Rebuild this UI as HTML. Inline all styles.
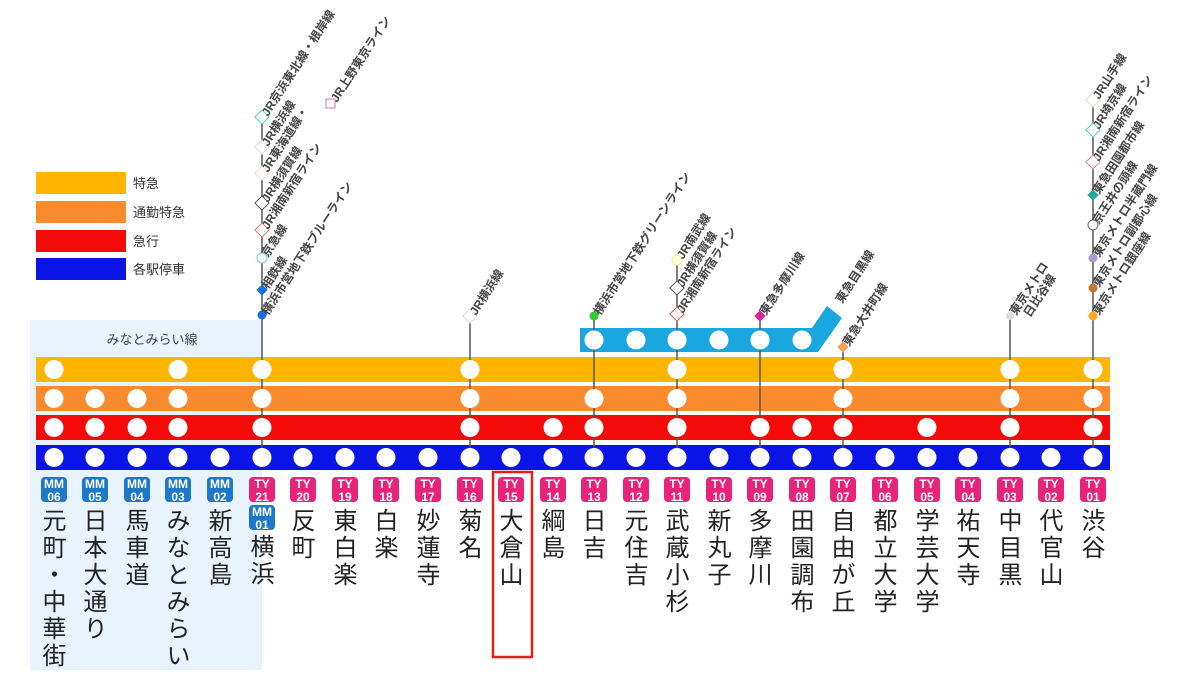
<!DOCTYPE html>
<html><head><meta charset="utf-8"><style>
body{margin:0;background:#fff;width:1200px;height:686px;overflow:hidden;position:relative;font-family:"Liberation Sans","Noto Sans CJK JP",sans-serif}
svg{position:absolute;left:0;top:0}
.n{position:absolute;top:508px;width:30px;writing-mode:vertical-rl;text-orientation:upright;font-size:24px;line-height:30px;letter-spacing:3px;color:#222;font-family:"Noto Sans CJK JP",sans-serif}
</style></head><body>
<svg width="1200" height="686" viewBox="0 0 1200 686" font-family="Liberation Sans, Noto Sans CJK JP, sans-serif">
<rect x="30" y="320" width="232" height="350" fill="#e8f3fd"/>
<text x="152" y="344" font-size="13" fill="#444" text-anchor="middle">みなとみらい線</text>
<rect x="36" y="172" width="90" height="22" fill="#ffb400"/><text x="133" y="188" font-size="13" fill="#333">特急</text>
<rect x="36" y="201" width="90" height="22" fill="#fa8a2e"/><text x="133" y="217" font-size="13" fill="#333">通勤特急</text>
<rect x="36" y="230" width="90" height="22" fill="#f50a0a"/><text x="133" y="246" font-size="13" fill="#333">急行</text>
<rect x="36" y="258" width="90" height="22" fill="#0a14e6"/><text x="133" y="274" font-size="13" fill="#333">各駅停車</text>
<path d="M580 328 L812 328 L827 306 L842 318 L818 352 L580 352 Z" fill="#1aa6de"/>
<rect x="36" y="357" width="1074" height="25" fill="#ffb400"/>
<rect x="36" y="386" width="1074" height="25" fill="#fa8a2e"/>
<rect x="36" y="415" width="1074" height="25" fill="#f50a0a"/>
<rect x="36" y="445" width="1074" height="25" fill="#0a14e6"/>
<g stroke="#555" stroke-width="1.5">
<line x1="262" y1="117" x2="262" y2="457"/><line x1="470" y1="316" x2="470" y2="457"/>
<line x1="594" y1="316" x2="594" y2="457"/><line x1="677" y1="260" x2="677" y2="457"/>
<line x1="760" y1="316" x2="760" y2="457"/><line x1="843" y1="347" x2="843" y2="457"/>
<line x1="1010" y1="316" x2="1010" y2="457"/><line x1="1093" y1="100" x2="1093" y2="457"/>
</g>
<g stroke-width="1">
<rect x="257" y="112" width="10" height="10" transform="rotate(45 262 117)" fill="#fff" stroke="#5cc"/>
<rect x="257" y="142" width="10" height="10" transform="rotate(45 262 147)" fill="#fff" stroke="#ddc"/>
<rect x="257" y="168" width="10" height="10" transform="rotate(45 262 173)" fill="#fff" stroke="#edc"/>
<rect x="257" y="198" width="10" height="10" transform="rotate(45 262 203)" fill="#fff" stroke="#555"/>
<rect x="257" y="225" width="10" height="10" transform="rotate(45 262 230)" fill="#fff" stroke="#d77"/>
<circle cx="262" cy="258" r="5" fill="#fff" stroke="#6cd"/>
<rect x="258" y="286" width="8" height="8" transform="rotate(45 262 290)" fill="#1a6fe0"/>
<circle cx="262" cy="315" r="4.5" fill="#1a6fe0"/>
<rect x="326" y="99" width="9" height="9" fill="#fff" stroke="#c7a"/>
<rect x="465" y="311" width="10" height="10" transform="rotate(45 470 316)" fill="#fff" stroke="#ddc"/>
<circle cx="594" cy="316" r="4.5" fill="#3c3"/>
<circle cx="677" cy="260" r="5" fill="#ffd" stroke="#ee9"/>
<rect x="672" y="283" width="10" height="10" transform="rotate(45 677 288)" fill="#fff" stroke="#555"/>
<rect x="672" y="309" width="10" height="10" transform="rotate(45 677 314)" fill="#fff" stroke="#d55"/>
<rect x="756" y="312" width="8" height="8" transform="rotate(45 760 316)" fill="#e0209a"/>
<rect x="839" y="343" width="8" height="8" transform="rotate(45 843 347)" fill="#f5a050"/>
<circle cx="1010" cy="316" r="4" fill="#ddd"/>
<rect x="1088" y="95" width="10" height="10" transform="rotate(45 1093 100)" fill="#fff" stroke="#ddc"/>
<rect x="1088" y="125" width="10" height="10" transform="rotate(45 1093 130)" fill="#fff" stroke="#5cb"/>
<rect x="1088" y="157" width="10" height="10" transform="rotate(45 1093 162)" fill="#fff" stroke="#d88"/>
<rect x="1089" y="191" width="8" height="8" transform="rotate(45 1093 195)" fill="#2a9"/>
<circle cx="1093" cy="225" r="5" fill="#fff" stroke="#668"/>
<circle cx="1093" cy="258" r="4.5" fill="#a9c"/>
<circle cx="1093" cy="288" r="4.5" fill="#b73"/>
<circle cx="1093" cy="316" r="4.5" fill="#fa2"/>
</g>
<g font-size="12" font-weight="bold" fill="#444">
<text transform="translate(268 117) rotate(-57)">JR京浜東北線・根岸線</text>
<text transform="translate(268 147) rotate(-57)">JR横浜線</text>
<text transform="translate(268 173) rotate(-57)">JR東海道線・</text>
<text transform="translate(337 103) rotate(-57)">JR上野東京ライン</text>
<text transform="translate(268 203) rotate(-57)">JR横須賀線</text>
<text transform="translate(268 230) rotate(-57)">JR湘南新宿ライン</text>
<text transform="translate(268 258) rotate(-57)">京急線</text>
<text transform="translate(268 290) rotate(-57)">相鉄線</text>
<text transform="translate(268 316) rotate(-57)">横浜市営地下鉄ブルーライン</text>
<text transform="translate(476 316) rotate(-57)">JR横浜線</text>
<text transform="translate(600 316) rotate(-57)">横浜市営地下鉄グリーンライン</text>
<text transform="translate(683 260) rotate(-57)">JR南武線</text>
<text transform="translate(683 288) rotate(-57)">JR横須賀線</text>
<text transform="translate(683 314) rotate(-57)">JR湘南新宿ライン</text>
<text transform="translate(766 316) rotate(-57)">東急多摩川線</text>
<text transform="translate(842 304) rotate(-57)">東急目黒線</text>
<text transform="translate(849 347) rotate(-57)">東急大井町線</text>
<text transform="translate(1016 316) rotate(-57)">東京メトロ</text>
<text transform="translate(1030 318) rotate(-57)">日比谷線</text>
<text transform="translate(1099 100) rotate(-57)">JR山手線</text>
<text transform="translate(1099 130) rotate(-57)">JR埼京線</text>
<text transform="translate(1099 162) rotate(-57)">JR湘南新宿ライン</text>
<text transform="translate(1099 195) rotate(-57)">東急田園都市線</text>
<text transform="translate(1099 225) rotate(-57)">京王井の頭線</text>
<text transform="translate(1099 258) rotate(-57)">東京メトロ半蔵門線</text>
<text transform="translate(1099 288) rotate(-57)">東京メトロ副都心線</text>
<text transform="translate(1099 316) rotate(-57)">東京メトロ銀座線</text>
</g>
<g fill="#fff">
<circle cx="594" cy="340" r="9.5"/><circle cx="636" cy="340" r="9.5"/><circle cx="677" cy="340" r="9.5"/><circle cx="719" cy="340" r="9.5"/><circle cx="760" cy="340" r="9.5"/><circle cx="802" cy="340" r="9.5"/>
<circle cx="54" cy="369.5" r="9.5"/><circle cx="178" cy="369.5" r="9.5"/><circle cx="262" cy="369.5" r="9.5"/><circle cx="470" cy="369.5" r="9.5"/><circle cx="677" cy="369.5" r="9.5"/><circle cx="843" cy="369.5" r="9.5"/><circle cx="1010" cy="369.5" r="9.5"/><circle cx="1093" cy="369.5" r="9.5"/>
<circle cx="54" cy="398.5" r="9.5"/><circle cx="95" cy="398.5" r="9.5"/><circle cx="137" cy="398.5" r="9.5"/><circle cx="178" cy="398.5" r="9.5"/><circle cx="262" cy="398.5" r="9.5"/><circle cx="470" cy="398.5" r="9.5"/><circle cx="594" cy="398.5" r="9.5"/><circle cx="677" cy="398.5" r="9.5"/><circle cx="843" cy="398.5" r="9.5"/><circle cx="1010" cy="398.5" r="9.5"/><circle cx="1093" cy="398.5" r="9.5"/>
<circle cx="54" cy="427.5" r="9.5"/><circle cx="95" cy="427.5" r="9.5"/><circle cx="137" cy="427.5" r="9.5"/><circle cx="178" cy="427.5" r="9.5"/><circle cx="262" cy="427.5" r="9.5"/><circle cx="470" cy="427.5" r="9.5"/><circle cx="553" cy="427.5" r="9.5"/><circle cx="594" cy="427.5" r="9.5"/><circle cx="677" cy="427.5" r="9.5"/><circle cx="760" cy="427.5" r="9.5"/><circle cx="802" cy="427.5" r="9.5"/><circle cx="843" cy="427.5" r="9.5"/><circle cx="927" cy="427.5" r="9.5"/><circle cx="1010" cy="427.5" r="9.5"/><circle cx="1093" cy="427.5" r="9.5"/>
<circle cx="54" cy="457.5" r="9.5"/><circle cx="95" cy="457.5" r="9.5"/><circle cx="137" cy="457.5" r="9.5"/><circle cx="178" cy="457.5" r="9.5"/><circle cx="220" cy="457.5" r="9.5"/><circle cx="262" cy="457.5" r="9.5"/><circle cx="303" cy="457.5" r="9.5"/><circle cx="345" cy="457.5" r="9.5"/><circle cx="386" cy="457.5" r="9.5"/><circle cx="428" cy="457.5" r="9.5"/><circle cx="470" cy="457.5" r="9.5"/><circle cx="511" cy="457.5" r="9.5"/><circle cx="553" cy="457.5" r="9.5"/><circle cx="594" cy="457.5" r="9.5"/><circle cx="636" cy="457.5" r="9.5"/><circle cx="677" cy="457.5" r="9.5"/><circle cx="719" cy="457.5" r="9.5"/><circle cx="760" cy="457.5" r="9.5"/><circle cx="802" cy="457.5" r="9.5"/><circle cx="843" cy="457.5" r="9.5"/><circle cx="885" cy="457.5" r="9.5"/><circle cx="927" cy="457.5" r="9.5"/><circle cx="968" cy="457.5" r="9.5"/><circle cx="1010" cy="457.5" r="9.5"/><circle cx="1051" cy="457.5" r="9.5"/><circle cx="1093" cy="457.5" r="9.5"/>
</g>
<g font-weight="bold" fill="#fff" text-anchor="middle">
<g fill="#1e78c8"><rect x="41" y="477" width="26" height="25" rx="4"/><rect x="82" y="477" width="26" height="25" rx="4"/><rect x="124" y="477" width="26" height="25" rx="4"/><rect x="165" y="477" width="26" height="25" rx="4"/><rect x="207" y="477" width="26" height="25" rx="4"/><rect x="249" y="505" width="26" height="25" rx="4"/></g>
<g fill="#e8237a"><rect x="249" y="477" width="26" height="25" rx="4"/><rect x="290" y="477" width="26" height="25" rx="4"/><rect x="332" y="477" width="26" height="25" rx="4"/><rect x="373" y="477" width="26" height="25" rx="4"/><rect x="415" y="477" width="26" height="25" rx="4"/><rect x="457" y="477" width="26" height="25" rx="4"/><rect x="498" y="477" width="26" height="25" rx="4"/><rect x="540" y="477" width="26" height="25" rx="4"/><rect x="581" y="477" width="26" height="25" rx="4"/><rect x="623" y="477" width="26" height="25" rx="4"/><rect x="664" y="477" width="26" height="25" rx="4"/><rect x="706" y="477" width="26" height="25" rx="4"/><rect x="747" y="477" width="26" height="25" rx="4"/><rect x="789" y="477" width="26" height="25" rx="4"/><rect x="830" y="477" width="26" height="25" rx="4"/><rect x="872" y="477" width="26" height="25" rx="4"/><rect x="914" y="477" width="26" height="25" rx="4"/><rect x="955" y="477" width="26" height="25" rx="4"/><rect x="997" y="477" width="26" height="25" rx="4"/><rect x="1038" y="477" width="26" height="25" rx="4"/><rect x="1080" y="477" width="26" height="25" rx="4"/></g>
<g font-size="12">
<text x="54" y="488">MM</text><text x="54" y="501">06</text>
<text x="95" y="488">MM</text><text x="95" y="501">05</text>
<text x="137" y="488">MM</text><text x="137" y="501">04</text>
<text x="178" y="488">MM</text><text x="178" y="501">03</text>
<text x="220" y="488">MM</text><text x="220" y="501">02</text>
<text x="262" y="516">MM</text><text x="262" y="529">01</text>
<text x="262" y="488">TY</text><text x="262" y="501">21</text>
<text x="303" y="488">TY</text><text x="303" y="501">20</text>
<text x="345" y="488">TY</text><text x="345" y="501">19</text>
<text x="386" y="488">TY</text><text x="386" y="501">18</text>
<text x="428" y="488">TY</text><text x="428" y="501">17</text>
<text x="470" y="488">TY</text><text x="470" y="501">16</text>
<text x="511" y="488">TY</text><text x="511" y="501">15</text>
<text x="553" y="488">TY</text><text x="553" y="501">14</text>
<text x="594" y="488">TY</text><text x="594" y="501">13</text>
<text x="636" y="488">TY</text><text x="636" y="501">12</text>
<text x="677" y="488">TY</text><text x="677" y="501">11</text>
<text x="719" y="488">TY</text><text x="719" y="501">10</text>
<text x="760" y="488">TY</text><text x="760" y="501">09</text>
<text x="802" y="488">TY</text><text x="802" y="501">08</text>
<text x="843" y="488">TY</text><text x="843" y="501">07</text>
<text x="885" y="488">TY</text><text x="885" y="501">06</text>
<text x="927" y="488">TY</text><text x="927" y="501">05</text>
<text x="968" y="488">TY</text><text x="968" y="501">04</text>
<text x="1010" y="488">TY</text><text x="1010" y="501">03</text>
<text x="1051" y="488">TY</text><text x="1051" y="501">02</text>
<text x="1093" y="488">TY</text><text x="1093" y="501">01</text>
</g></g>
<rect x="493" y="472" width="39" height="185" fill="none" stroke="#e02020" stroke-width="2.5"/>
</svg>
<div class="n" style="left:39px">元町・中華街</div>
<div class="n" style="left:80px">日本大通り</div>
<div class="n" style="left:122px">馬車道</div>
<div class="n" style="left:163px">みなとみらい</div>
<div class="n" style="left:205px">新高島</div>
<div class="n" style="left:247px;top:534px">横浜</div>
<div class="n" style="left:288px">反町</div>
<div class="n" style="left:330px">東白楽</div>
<div class="n" style="left:371px">白楽</div>
<div class="n" style="left:413px">妙蓮寺</div>
<div class="n" style="left:455px">菊名</div>
<div class="n" style="left:496px">大倉山</div>
<div class="n" style="left:538px">綱島</div>
<div class="n" style="left:579px">日吉</div>
<div class="n" style="left:621px">元住吉</div>
<div class="n" style="left:662px">武蔵小杉</div>
<div class="n" style="left:704px">新丸子</div>
<div class="n" style="left:745px">多摩川</div>
<div class="n" style="left:787px">田園調布</div>
<div class="n" style="left:828px">自由が丘</div>
<div class="n" style="left:870px">都立大学</div>
<div class="n" style="left:912px">学芸大学</div>
<div class="n" style="left:953px">祐天寺</div>
<div class="n" style="left:995px">中目黒</div>
<div class="n" style="left:1036px">代官山</div>
<div class="n" style="left:1078px">渋谷</div>
</body></html>
